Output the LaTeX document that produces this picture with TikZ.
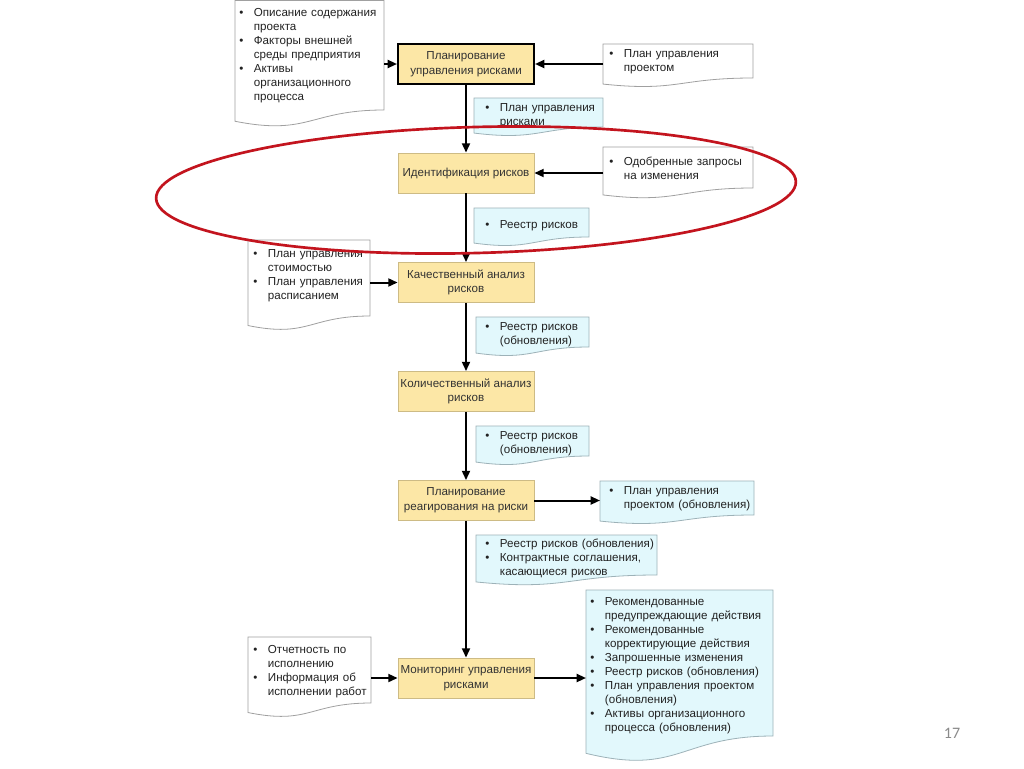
\documentclass[tikz,border=0pt]{standalone}
\usepackage{fontspec}
\setmainfont{Liberation Sans}
\newfontfamily\pgnumfont{Carlito}
\usetikzlibrary{arrows.meta}
\definecolor{boxfill}{HTML}{FCE7A6}
\definecolor{boxline}{HTML}{CDBB85}
\definecolor{cfill}{HTML}{E2F8FC}
\definecolor{cline}{HTML}{9DB2B8}
\definecolor{wline}{HTML}{A0A0A0}
\definecolor{txt}{HTML}{222222}
\definecolor{btxt}{HTML}{333333}
\definecolor{ellred}{HTML}{C3141E}
\definecolor{pgray}{HTML}{8A8A8A}
\newcommand\bul{\par\hangindent=11pt\hangafter=1\noindent\strut\makebox[11pt][l]{\textbullet}}
\newcommand\docshape[6]{\path[#1] (#2,#3) -- (#4,#3) -- (#4,#5) .. controls ({(#2+#4)/2},#5) and ({(#2+#4)/2},{#5+#6}) .. (#2,{#5+0.433*#6}) -- cycle;}
\tikzset{
  proc/.style={draw=boxline, line width=0.6pt, fill=boxfill, minimum width=102pt, minimum height=30pt, inner sep=0pt, align=center, font=\fontsize{8.7}{11}\selectfont, text=btxt},
  procbold/.style={proc, draw=black, line width=1.5pt},
  doctext/.style={anchor=north west, inner sep=0pt, text width=170pt, align=left, font=\fontsize{8.7}{10.5}\selectfont, text=txt},
  wdoc/.style={draw=wline, fill=white, line width=0.6pt},
  cdoc/.style={draw=cline, fill=cfill, line width=0.6pt},
  arr/.style={line width=1.5pt, -{Triangle[length=7pt,width=6pt]}},
}
\begin{document}
\begin{tikzpicture}[x=0.75pt,y=-0.75pt]
\useasboundingbox (0,0) rectangle (1024,768);
\fill[white] (0,0) rectangle (1024,768);

% documents
\docshape{wdoc}{235}{0.5}{384}{110}{26}
\docshape{wdoc}{603}{44}{753}{78}{14}
\docshape{cdoc}{474}{98}{603}{127}{14}
\docshape{wdoc}{603}{147}{753}{188}{16}
\docshape{cdoc}{474}{208}{589}{237}{14}
\docshape{wdoc}{248}{240}{370}{316}{22}
\docshape{cdoc}{476}{317}{589}{347}{14}
\docshape{cdoc}{476}{426}{589}{456}{14}
\docshape{cdoc}{600}{481}{754}{515}{14}
\docshape{cdoc}{476}{535}{657}{575}{16}
\docshape{wdoc}{248}{637}{371}{703}{22}
\docshape{cdoc}{586}{590}{773}{736}{40}

% document texts
\node[doctext] (tTL) at (239,2) {\bul Описание содержания\newline проекта\bul Факторы внешней\newline среды предприятия\bul Активы\newline организационного\newline процесса\par};
\node[doctext] (tR1) at (609,43) {\bul План управления\newline проектом\par};
\node[doctext] (tC1) at (485,97) {\bul План управления\newline рисками\par};
\node[doctext] (tR2) at (609,151) {\bul Одобренные запросы\newline на изменения\par};
\node[doctext] (tC2) at (485,214) {\bul Реестр рисков\par};
\node[doctext] (tL2) at (253,243) {\bul План управления\newline стоимостью\bul План управления\newline расписанием\par};
\node[doctext] (tC3) at (485,316) {\bul Реестр рисков\newline (обновления)\par};
\node[doctext] (tC4) at (485,425) {\bul Реестр рисков\newline (обновления)\par};
\node[doctext] (tC5) at (609,480) {\bul План управления\newline проектом (обновления)\par};
\node[doctext] (tC6) at (485,533) {\bul Реестр рисков (обновления)\bul Контрактные соглашения,\newline касающиеся рисков\par};
\node[doctext] (tL3) at (253,639) {\bul Отчетность по\newline исполнению\bul Информация об\newline исполнении работ\par};
\node[doctext] (tBig) at (590,591) {\bul Рекомендованные\newline предупреждающие действия\bul Рекомендованные\newline корректирующие действия\bul Запрошенные изменения\bul Реестр рисков (обновления)\bul План управления проектом\newline (обновления)\bul Активы организационного\newline процесса (обновления)\par};

% process boxes
\node[procbold] (b1) at (466,64) {Планирование\\управления рисками};
\node[proc] (b2) at (466,173) {Идентификация рисков};
\node[proc] (b3) at (466,282.5) {Качественный анализ\\рисков};
\node[proc] (b4) at (466,391.5) {Количественный анализ\\рисков};
\node[proc] (b5) at (466,500.5) {Планирование\\реагирования на риски};
\node[proc] (b6) at (466,678) {Мониторинг управления\\рисками};

% connection points on documents
\coordinate (tlE) at (384,64);
\coordinate (r1W) at (603,64);
\coordinate (r2W) at (603,173);
\coordinate (l2E) at (370,282.5);
\coordinate (c5W) at (600,500.5);
\coordinate (l3E) at (371,678);
\coordinate (bigW) at (586,678);

% connectors
\draw[arr] (tlE) -- (b1.west);
\draw[arr] (r1W) -- (b1.east);
\draw[arr] (b1.south) -- (b2.north);
\draw[arr] (r2W) -- (b2.east);
\draw[arr] (b2.south) -- (b3.north);
\draw[arr] (l2E) -- (b3.west);
\draw[arr] (b3.south) -- (b4.north);
\draw[arr] (b4.south) -- (b5.north);
\draw[arr] (b5.east) -- (c5W);
\draw[arr] (b5.south) -- (b6.north);
\draw[arr] (l3E) -- (b6.west);
\draw[arr] (b6.east) -- (bigW);

% red highlight ellipse
\draw[ellred, line width=2pt, rotate around={1.5:(476,190)}] (476,190) ellipse [x radius=320, y radius=63];

% page number
\node[text=pgray, font=\pgnumfont\fontsize{12}{14}\selectfont] (pg) at (952,733) {17};
\end{tikzpicture}
\end{document}
